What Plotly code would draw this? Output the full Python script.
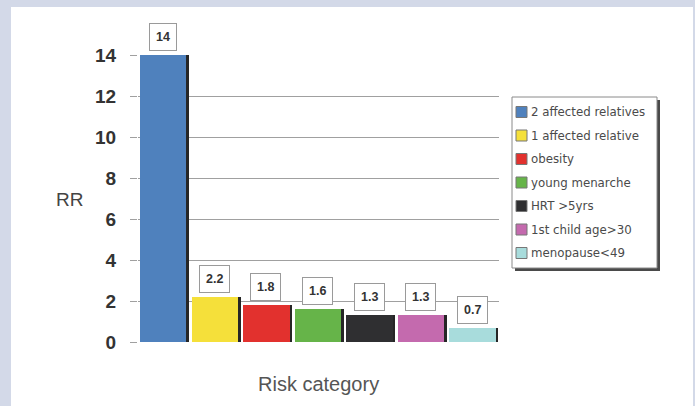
import plotly.graph_objects as go

# ---- data ----
categories = ["2 affected relatives", "1 affected relative", "obesity",
              "young menarche", "HRT >5yrs", "1st child age>30", "menopause<49"]
rr_values = [14, 2.2, 1.8, 1.6, 1.3, 1.3, 0.7]
value_labels = ["14", "2.2", "1.8", "1.6", "1.3", "1.3", "0.7"]
bar_colors = ["#4f81bd", "#f5e03a", "#e2312e", "#66b449", "#2f2f31", "#c46aae", "#a8dcdc"]
y_ticks = [0, 2, 4, 6, 8, 10, 12, 14]

W, H = 695, 406
L, R, T, B = 138, 196, 55, 64
PW, PH = W - L - R, H - T - B


def px_x(p):
    return (p - L) / PW


def px_y(p):
    return (H - B - p) / PH


fig = go.Figure()

# shadow bars (3D edge)
fig.add_trace(go.Bar(
    x=categories, y=rr_values, width=0.9, offset=-0.45 + 0.04,
    marker=dict(color="#262626", line=dict(width=0)),
    showlegend=False, hoverinfo="skip"))

# main bars
fig.add_trace(go.Bar(
    x=categories, y=rr_values, width=0.9, offset=-0.46,
    marker=dict(color=bar_colors, line=dict(width=0)),
    showlegend=False))

# value labels
for c, v, t in zip(categories, rr_values, value_labels):
    fig.add_annotation(x=c, y=v, text="<b>%s</b>" % t, showarrow=False,
                       yanchor="bottom", yshift=4, xshift=-1,
                       bgcolor="white", bordercolor="#9a9a9a", borderwidth=1,
                       borderpad=6,
                       font=dict(family="Liberation Sans, Arial", size=12.5, color="#333"))

shapes = []
# white panel
shapes.append(dict(type="rect", xref="paper", yref="paper", layer="below",
                   x0=px_x(11), x1=px_x(693), y0=px_y(430), y1=px_y(7),
                   fillcolor="white", line=dict(width=0)))
# legend shadow + box
lx0, lx1, ly0, ly1 = 512, 657, 97, 268
shapes.append(dict(type="rect", xref="paper", yref="paper",
                   x0=px_x(lx0 + 3), x1=px_x(lx1 + 3), y0=px_y(ly1 + 3), y1=px_y(ly0 + 3),
                   fillcolor="#4a4a4a", line=dict(width=0)))
shapes.append(dict(type="rect", xref="paper", yref="paper",
                   x0=px_x(lx0), x1=px_x(lx1), y0=px_y(ly1), y1=px_y(ly0),
                   fillcolor="white", line=dict(width=1, color="#8a8a8a")))

# custom legend entries
for i, (c, col) in enumerate(zip(categories, bar_colors)):
    yc = 112 + i * 23.5
    shapes.append(dict(type="rect", xref="paper", yref="paper",
                       x0=px_x(516), x1=px_x(527), y0=px_y(yc + 5.5), y1=px_y(yc - 5.5),
                       fillcolor=col, line=dict(width=1, color="#777")))
    fig.add_annotation(xref="paper", yref="paper", x=px_x(529), y=px_y(yc),
                       xanchor="left", yanchor="middle", text=c, showarrow=False,
                       font=dict(family="DejaVu Sans", size=11.8, color="#4a4a4a"))

# axis titles
fig.add_annotation(xref="paper", yref="paper", x=px_x(69), y=px_y(199),
                   text="RR", showarrow=False, xanchor="center", yanchor="middle",
                   font=dict(family="Liberation Sans, Arial", size=19, color="#444"))
fig.add_annotation(xref="paper", yref="paper", x=px_x(318), y=px_y(384),
                   text="Risk category", showarrow=False, xanchor="center", yanchor="middle",
                   font=dict(family="Liberation Sans, Arial", size=20, color="#555"))

fig.update_layout(
    width=W, height=H,
    margin=dict(l=L, r=R, t=T, b=B, autoexpand=False),
    paper_bgcolor="#d3d9e8", plot_bgcolor="white",
    barmode="overlay", bargap=0,
    showlegend=False,
    shapes=shapes,
)
fig.update_xaxes(showticklabels=False, showgrid=False, zeroline=False, showline=False,
                 ticks="", range=[-0.5, 6.5])
fig.update_yaxes(range=[0, 14], tickvals=y_ticks, ticktext=[str(t) for t in y_ticks],
                 showgrid=True, gridcolor="#a0a0a0", gridwidth=1,
                 zeroline=False, showline=False,
                 ticks="outside", ticklen=7, tickcolor="#a0a0a0",
                 ticklabelstandoff=10,
                 tickfont=dict(family="Liberation Sans, Arial", size=19, color="#333",
                               weight="bold"))

fig.write_html("out.html")
